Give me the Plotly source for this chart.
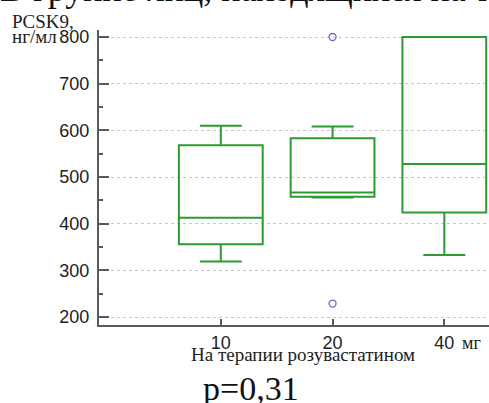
import plotly.graph_objects as go

# ---- data ----
categories = ["10", "20", "40"]
lower_whisker = [319, 456, 333]
q1_values = [356, 458, 424]
median_values = [413, 467, 528]
q3_values = [568, 583, 800]
upper_whisker = [610, 608, 800]
outlier_x = ["20", "20"]
outlier_y = [800, 229]
y_ticks = [200, 300, 400, 500, 600, 700, 800]

W, H = 489, 403
L, R, T, B = 99, 0, 30, 78
PW, PH = W - L - R, H - T - B


def px(x):
    return (x - L) / PW


def py(y):
    return (H - B - y) / PH


GREEN = "#2e9b2e"
AXIS = "#5a5a5a"

fig = go.Figure()
fig.add_trace(go.Box(
    x=categories,
    q1=q1_values,
    median=median_values,
    q3=q3_values,
    lowerfence=lower_whisker,
    upperfence=upper_whisker,
    boxpoints=False,
    fillcolor="rgba(0,0,0,0)",
    line=dict(color=GREEN, width=2),
    width=0.75,
    whiskerwidth=0.5,
    hoverinfo="skip",
    showlegend=False,
))
fig.add_trace(go.Scatter(
    x=outlier_x,
    y=outlier_y,
    mode="markers",
    marker=dict(symbol="circle-open", size=7, color="#6a6ad0", line=dict(width=1.3)),
    hoverinfo="skip",
    showlegend=False,
    cliponaxis=False,
))

serif = "Liberation Serif, Times New Roman, serif"
sans = "Liberation Sans, Arial, sans-serif"

annotations = [
    dict(text="В группе лиц, находящихся на терапии", x=px(-2), y=py(11),
         xanchor="left", yanchor="bottom", font=dict(family=serif, size=36, color="#111")),
    dict(text="PCSK9,", x=px(10), y=py(21), xanchor="left", yanchor="middle",
         font=dict(family=serif, size=19, color="#222")),
    dict(text="нг/мл", x=px(10), y=py(37), xanchor="left", yanchor="middle",
         font=dict(family=serif, size=19, color="#222")),
    dict(text="мг", x=px(460), y=py(343), xanchor="left", yanchor="middle",
         font=dict(family=serif, size=18, color="#222")),
    dict(text="На терапии розувастатином", x=px(303), y=py(354), xanchor="center", yanchor="middle",
         font=dict(family=serif, size=19, color="#222")),
    dict(text="p=0,31", x=px(251), y=py(388), xanchor="center", yanchor="middle",
         font=dict(family=serif, size=34, color="#111")),
]
for a in annotations:
    a.update(xref="paper", yref="paper", showarrow=False)

fig.update_layout(
    width=W, height=H,
    margin=dict(l=L, r=R, t=T, b=B, pad=0),
    paper_bgcolor="white",
    plot_bgcolor="white",
    annotations=annotations,
    xaxis=dict(
        type="category",
        range=[-1.09, 2.4],
        showline=True, linecolor=AXIS, linewidth=2,
        ticks="inside", ticklen=6, tickwidth=2, tickcolor=AXIS,
        showgrid=False, zeroline=False,
        tickfont=dict(family=sans, size=18, color="#222"),
        fixedrange=True,
    ),
    yaxis=dict(
        range=[183, 815],
        tickvals=y_ticks,
        showline=True, linecolor=AXIS, linewidth=2,
        ticks="inside", ticklen=10, tickwidth=2, tickcolor=AXIS,
        minor=dict(ticks="inside", ticklen=4, tickwidth=1.5, tickcolor=AXIS, dtick=50, showgrid=False),
        showgrid=True, gridcolor="#c8c8c8", gridwidth=1, griddash="dot",
        zeroline=False,
        tickfont=dict(family=sans, size=18, color="#222"),
        ticklabelstandoff=4,
        fixedrange=True,
    ),
)

fig.write_html(
    "out.html",
    config={"displayModeBar": False},
    post_script="document.body.style.margin='0';document.body.style.overflow='hidden';",
)
